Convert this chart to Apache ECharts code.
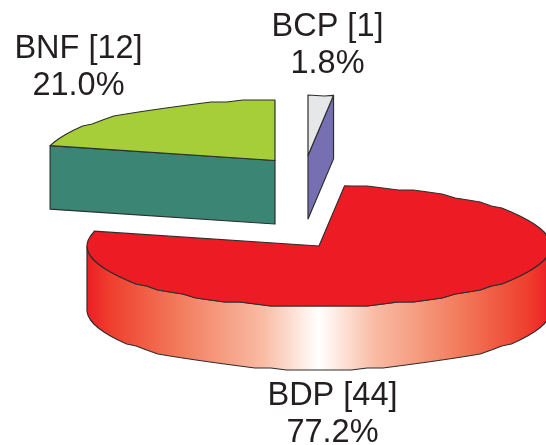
<!DOCTYPE html>
<html>
<head>
<meta charset="utf-8">
<style>html,body{margin:0;padding:0;background:#fff}#c{width:546px;height:445px}</style>
<script src="https://cdn.jsdelivr.net/npm/echarts@6/dist/echarts.min.js"></script>
</head>
<body>
<div id="c"></div>
<script>
// Data, clockwise from 12 o'clock
const names = ['BCP', 'BDP', 'BNF'];
const counts = [1, 44, 12];
const percents = ['1.8%', '77.2%', '21.0%'];

// Layout and style, per slice
const RX = 232, RY = 60.5, DEPTH = 63.5, STEP = 4, SNAP = 2;
const layout = [
  {cx: 308, cy: 155.5, lx: 327.5, ly: 15.5},
  {cx: 319, cy: 246, lx: 332.5, ly: 384.5},
  {cx: 275, cy: 160.5, lx: 78.5, ly: 37.5}
];
const topColors = ['#e6e7e8', '#ed1c24', '#a6ce39'];
const sideColors = ['#7670b3', null, '#3b8574'];
const EDGE = '#2e2e2e', INK = '#231f20';
const FONT = '32.5px "Liberation Sans", Arial, sans-serif';
const redSide = new echarts.graphic.LinearGradient(0, 0, 1, 0, [
  {offset: 0, color: '#ed1c24'},
  {offset: 0.05, color: '#ef3e2e'},
  {offset: 0.2, color: '#f27c5c'},
  {offset: 0.38, color: '#f9bba4'},
  {offset: 0.46, color: '#fee9e0'},
  {offset: 0.5, color: '#ffffff'},
  {offset: 0.54, color: '#fee9e0'},
  {offset: 0.62, color: '#f9bba4'},
  {offset: 0.8, color: '#f27c5c'},
  {offset: 0.95, color: '#ef3e2e'},
  {offset: 1, color: '#ed1c24'}
]);

const total = counts.reduce((a, b) => a + b, 0);
const rad = d => d * Math.PI / 180;
function point(cx, cy, deg) {
  return [cx + RX * Math.sin(rad(deg)), cy - RY * Math.cos(rad(deg))];
}
// Coarsely stepped rim, as in the source artwork
function rim(cx, cy, a0, a1) {
  const pts = [point(cx, cy, a0)];
  for (let a = Math.ceil(a0 / STEP + 1e-6) * STEP; a < a1 - 1e-6; a += STEP) {
    const p = point(cx, cy, a);
    pts.push([p[0], Math.round(p[1] / SNAP) * SNAP]);
  }
  pts.push(point(cx, cy, a1));
  return pts;
}
function poly(points, fill) {
  return {type: 'polygon', shape: {points}, style: {fill, stroke: EDGE, lineWidth: 1.2, lineJoin: 'round'}};
}
function txt(text, x, y) {
  return {type: 'text', z2: 10, style: {text, x, y, fill: INK, font: FONT, textAlign: 'center', textVerticalAlign: 'middle'}};
}

function renderItem(params, api) {
  const i = params.dataIndex;
  const L = layout[i];
  let before = 0;
  for (let k = 0; k < i; k++) before += counts[k];
  const a0 = before / total * 360;
  const a1 = a0 + api.value(0) / total * 360;
  const apex = [L.cx, L.cy];
  const top = rim(L.cx, L.cy, a0, a1);
  const children = [];
  if (i === 1) {
    // Front wall of the big slice: the rim from 90 to 270 degrees
    const upper = rim(L.cx, L.cy, 90, 270);
    const lower = rim(L.cx, L.cy + DEPTH, 90, 270);
    children.push(poly(upper.concat(lower.reverse()), redSide));
  } else {
    // Cut face: from the apex to the far end of the cut
    const end = i === 0 ? top[top.length - 1] : top[0];
    children.push(poly([
      apex, end, [end[0], end[1] + DEPTH], [apex[0], apex[1] + DEPTH]
    ], sideColors[i]));
  }
  children.push(poly([apex].concat(top), topColors[i]));
  children.push(txt(names[i] + ' [' + counts[i] + ']', L.lx, L.ly + 11.5));
  children.push(txt(percents[i], L.lx, L.ly + 11.5 + 37.5));
  return {type: 'group', children};
}

const chart = echarts.init(document.getElementById('c'), null, {width: 546, height: 445});
chart.setOption({
  animation: false,
  backgroundColor: '#ffffff',
  series: [{
    type: 'custom',
    coordinateSystem: 'none',
    silent: true,
    clip: false,
    data: counts.map((v, i) => ({name: names[i], value: [v]})),
    renderItem
  }]
});
</script>
</body>
</html>
